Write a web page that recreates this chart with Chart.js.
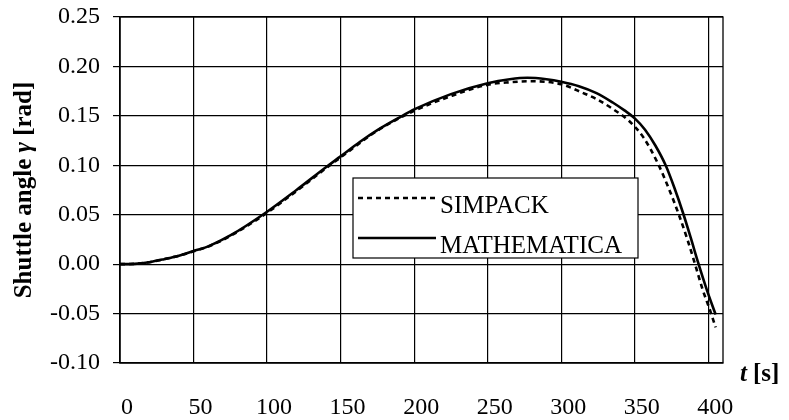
<!DOCTYPE html>
<html>
<head>
<meta charset="utf-8">
<script src="https://cdn.jsdelivr.net/npm/chart.js@4/dist/chart.umd.min.js"></script>
<style>
html, body { margin: 0; padding: 0; background: #fff; }
</style>
</head>
<body>
<canvas id="graphique" width="789" height="420"></canvas>
<script>
// axis ticks
var timeTicks = [0, 50, 100, 150, 200, 250, 300, 350, 400]
var angleTicks = [-0.10, -0.05, 0.00, 0.05, 0.10, 0.15, 0.20, 0.25]

// SIMPACK (dashed)
var simpackTime  = [0, 10, 20, 30, 40, 50, 60, 75, 100, 120, 140, 150, 175, 200, 225, 250, 265, 279, 300, 315, 324, 335, 346, 356, 366, 373, 380, 386, 391, 396, 401.5, 405]
var simpackAngle = [0, 0.0003, 0.002, 0.005, 0.0085, 0.013, 0.0178, 0.0285, 0.052, 0.074, 0.097, 0.108, 0.135, 0.155, 0.170, 0.1815, 0.184, 0.185, 0.182, 0.173, 0.167, 0.157, 0.145, 0.128, 0.101, 0.077, 0.050, 0.024, 0.000, -0.025, -0.048, -0.064]

// MATHEMATICA (solid)
var mathTime  = [0, 10, 20, 30, 40, 50, 60, 75, 100, 120, 140, 150, 163, 175, 192, 200, 225, 250, 265, 277, 290, 300, 312, 324, 335, 343, 350, 357, 364, 371, 377, 383, 388, 393, 399, 405]
var mathAngle = [0, 0.0003, 0.002, 0.005, 0.0085, 0.0133, 0.018, 0.029, 0.053, 0.075, 0.098, 0.109, 0.1235, 0.1355, 0.150, 0.1565, 0.172, 0.183, 0.187, 0.1885, 0.187, 0.1845, 0.180, 0.173, 0.1635, 0.1555, 0.1475, 0.136, 0.120, 0.100, 0.077, 0.051, 0.027, 0.002, -0.026, -0.051]

var serif = "'Liberation Serif', 'Times New Roman', serif"

function toPoints(xs, ys) {
    return xs.map(function (x, i) { return {x: x, y: ys[i]} })
}

function drawRuns(ctx, runs, x, y) {
    runs.forEach(function (r) {
        ctx.font = r.font
        ctx.fillText(r.text, x, y)
        x += ctx.measureText(r.text).width + (r.gap || 0)
    })
}

// frame, axis titles and the boxed legend
var extras = {
    id: 'extras',
    afterDatasetsDraw: function (chart) {
        var ctx = chart.ctx
        var a = chart.chartArea
        ctx.save()
        ctx.strokeStyle = '#000'
        ctx.lineWidth = 1.3
        ctx.strokeRect(a.left, a.top, a.right - a.left, a.bottom - a.top)

        // legend
        var bx = 353, by = 178, bw = 285, bh = 80
        ctx.fillStyle = '#fff'
        ctx.fillRect(bx, by, bw, bh)
        ctx.lineWidth = 1.2
        ctx.strokeRect(bx, by, bw, bh)
        ctx.fillStyle = '#000'
        ctx.textBaseline = 'alphabetic'
        chart.data.datasets.forEach(function (ds, i) {
            var ly = by + 20 + i * 40
            ctx.beginPath()
            ctx.setLineDash(ds.borderDash || [])
            ctx.lineWidth = ds.borderWidth
            ctx.strokeStyle = ds.borderColor
            ctx.moveTo(bx + 5, ly)
            ctx.lineTo(bx + 83, ly)
            ctx.stroke()
            ctx.setLineDash([])
            ctx.font = '25px ' + serif
            ctx.fillText(ds.label, bx + 87, ly + 15)
        })

        // y title
        ctx.save()
        ctx.translate(31, (a.top + a.bottom) / 2)
        ctx.rotate(-Math.PI / 2)
        var runs = [
            {text: 'Shuttle angle ', font: 'bold 25px ' + serif},
            {text: 'γ', font: 'italic bold 25px ' + serif},
            {text: ' [rad]', font: 'bold 25px ' + serif}
        ]
        var total = 0
        runs.forEach(function (r) { ctx.font = r.font; total += ctx.measureText(r.text).width })
        drawRuns(ctx, runs, -total / 2, 0)
        ctx.restore()

        // x title
        drawRuns(ctx, [
            {text: 't', font: 'italic bold 25px ' + serif, gap: 6},
            {text: '[s]', font: 'bold 25px ' + serif}
        ], 740, 381)
        ctx.restore()
    }
}

var ctx = document.getElementById('graphique')
var chart = new Chart(ctx, {
    type: 'line',
    data: {
        datasets: [{
            label: 'SIMPACK',
            data: toPoints(simpackTime, simpackAngle),
            borderColor: '#000',
            borderWidth: 2.6,
            borderDash: [5, 4],
            pointRadius: 0,
            cubicInterpolationMode: 'monotone',
            fill: false
        }, {
            label: 'MATHEMATICA',
            data: toPoints(mathTime, mathAngle),
            borderColor: '#000',
            borderWidth: 2.6,
            pointRadius: 0,
            cubicInterpolationMode: 'monotone',
            fill: false
        }]
    },
    options: {
        responsive: false,
        animation: false,
        devicePixelRatio: 1,
        layout: {padding: {top: 17, right: 66, left: 0, bottom: 0}},
        plugins: {legend: {display: false}, tooltip: {enabled: false}},
        scales: {
            x: {
                type: 'linear',
                min: 0,
                max: 410,
                afterBuildTicks: function (s) { s.ticks = timeTicks.map(function (v) { return {value: v} }) },
                afterFit: function (s) { s.height = 57; s.paddingLeft = 0; s.paddingRight = 0 },
                ticks: {
                    color: '#000',
                    font: {family: serif, size: 24},
                    labelOffset: 7,
                    padding: 30,
                    maxRotation: 0,
                    autoSkip: false
                },
                grid: {color: '#000', lineWidth: 1.2, drawTicks: false},
                border: {color: '#000', width: 1.3}
            },
            y: {
                min: -0.1,
                max: 0.25,
                afterBuildTicks: function (s) { s.ticks = angleTicks.map(function (v) { return {value: v} }) },
                afterFit: function (s) { s.width = 120; s.paddingTop = 0; s.paddingBottom = 0 },
                ticks: {
                    color: '#000',
                    font: {family: serif, size: 24},
                    padding: 13,
                    callback: function (v) { return v.toFixed(2) }
                },
                grid: {color: '#000', lineWidth: 1.2, tickLength: 7},
                border: {color: '#000', width: 1.3}
            }
        }
    },
    plugins: [extras]
})
</script>
</body>
</html>
